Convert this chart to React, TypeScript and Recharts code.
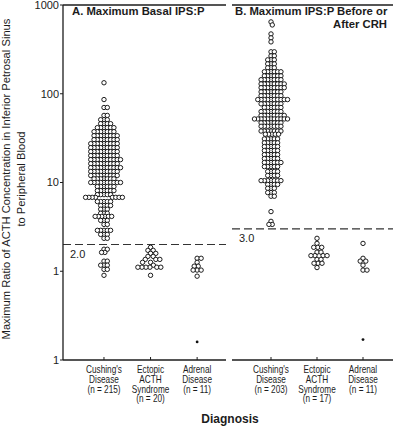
import React from 'react';
import { ScatterChart, Scatter, XAxis, YAxis, ReferenceLine } from 'recharts';

// ---------- DATA ----------
// Each entry: [ratio value, number of patients at that value]
const cushingBasal: [number, number][] = [
  [133, 1], [86, 1], [70, 2], [57, 2], [51, 3], [46, 4], [41.5, 6], [37.4, 7],
  [33.7, 8], [30.4, 8], [27.4, 9], [24.7, 9], [22.3, 9], [20.1, 9], [18.1, 10],
  [16.3, 9], [14.7, 10], [13.3, 9], [12.0, 9], [11.0, 7], [10, 10], [9.0, 6],
  [8.1, 6], [7.3, 5], [6.8, 8], [6.1, 5], [5.5, 4], [5.0, 3], [4.5, 3], [4.15, 6],
  [3.74, 3], [3.37, 2], [2.89, 5], [2.6, 3], [2.35, 2], [1.77, 2], [1.63, 2],
  [1.3, 2], [1.17, 3], [1.05, 2], [0.9, 1],
];
const ectopicBasal: [number, number][] = [
  [1.86, 1], [1.72, 2], [1.59, 2], [1.47, 2], [1.36, 3], [1.26, 2], [1.17, 1], [1.11, 6], [0.9, 1],
];
const adrenalBasal: [number, number][] = [
  [1.4, 2], [1.26, 1], [1.14, 2], [1.03, 3], [0.88, 1],
];
const adrenalBasalLow: number[] = [0.16];

const cushingCRH: [number, number][] = [
  [645, 1], [596, 1], [472, 1], [426, 1], [384, 1], [297, 2], [267, 2], [241, 3],
  [217, 3], [196, 3], [177, 6], [159, 6], [144, 7], [129, 8], [117, 8], [105, 7],
  [95, 7], [86, 10], [77, 7], [70, 6], [63, 7], [57, 8], [52, 11], [47, 7], [43, 7],
  [38, 7], [35, 5], [31, 5], [28, 5], [25.4, 5], [22.9, 5], [20.6, 5], [18.6, 5],
  [16.8, 6], [15.1, 5], [13.3, 4], [12, 4], [10.5, 7], [9.5, 4], [8.6, 3], [7.7, 3],
  [7.0, 2], [4.7, 1], [3.65, 1], [3.37, 2],
];
const ectopicCRH: [number, number][] = [
  [2.35, 1], [2.06, 1], [1.86, 3], [1.64, 2], [1.5, 4], [1.36, 2], [1.23, 3], [1.1, 1],
];
const adrenalCRH: [number, number][] = [
  [2.06, 1], [1.4, 1], [1.3, 2], [1.17, 1], [1.03, 2],
];
const adrenalCRHLow: number[] = [0.17];

const labelsA: string[][] = [
  ["Cushing's", 'Disease', '(n = 215)'],
  ['Ectopic', 'ACTH', 'Syndrome', '(n = 20)'],
  ['Adrenal', 'Disease', '(n = 11)'],
];
const labelsB: string[][] = [
  ["Cushing's", 'Disease', '(n = 203)'],
  ['Ectopic', 'ACTH', 'Syndrome', '(n = 17)'],
  ['Adrenal', 'Disease', '(n = 11)'],
];
const categoryPositions = [1, 2, 3];
const yTicks = [0.1, 1, 10, 100, 1000];
const cutoffA = 2.0;
const cutoffB = 3.0;

// ---------- STYLE / LAYOUT ----------
const FONT = "'Liberation Sans', Arial, Helvetica, sans-serif";
const INK = '#1c1c1c';
const TOP = 5;
const PLOT_H = 355;
const PX_PER_DECADE = PLOT_H / 4;
const DOMAIN_A: [number, number] = [0.12, 3.62];
const DOMAIN_B: [number, number] = [0.152, 3.652];
const PX_PER_UNIT_A = 163 / 3.5;
const PX_PER_UNIT_B = 161 / 3.5;
const DENSE_SPACING = 3.3;
const SPARSE_SPACING = 4.0;

const minorTicks: number[] = [];
for (const d of [0.1, 1, 10, 100]) for (let k = 2; k <= 9; k++) minorTicks.push(+(k * d).toPrecision(2));

// deterministic beeswarm layout (pixel space) -> x offset in axis units
function swarm(bins: [number, number][], cat: number, pxPerUnit: number, dist: number) {
  const vals: number[] = [];
  bins.forEach(([v, c]) => { for (let i = 0; i < c; i++) vals.push(v); });
  vals.sort((a, b) => b - a);
  const placed: { px: number; py: number }[] = [];
  const out: { x: number; y: number }[] = [];
  for (const v of vals) {
    const py = -Math.log10(v) * PX_PER_DECADE;
    const cands = [0];
    for (const p of placed) {
      const dy = py - p.py;
      if (Math.abs(dy) < dist) {
        const h = Math.sqrt(dist * dist - dy * dy);
        cands.push(p.px + h + 0.01, p.px - h - 0.01);
      }
    }
    let best: number | null = null;
    for (const c of cands) {
      const ok = placed.every(p => (p.px - c) ** 2 + (p.py - py) ** 2 >= dist * dist - 0.05);
      if (ok && (best === null || Math.abs(c) < Math.abs(best) - 1e-6)) best = c;
    }
    const b = best ?? 0;
    placed.push({ px: b, py });
    out.push({ x: cat + b / pxPerUnit, y: v });
  }
  return out;
}

const pointsA = [
  ...swarm(cushingBasal, categoryPositions[0], PX_PER_UNIT_A, DENSE_SPACING),
  ...swarm(ectopicBasal, categoryPositions[1], PX_PER_UNIT_A, SPARSE_SPACING),
  ...swarm(adrenalBasal, categoryPositions[2], PX_PER_UNIT_A, SPARSE_SPACING),
];
const lowA = adrenalBasalLow.map(v => ({ x: categoryPositions[2], y: v }));
const pointsB = [
  ...swarm(cushingCRH, categoryPositions[0], PX_PER_UNIT_B, DENSE_SPACING),
  ...swarm(ectopicCRH, categoryPositions[1], PX_PER_UNIT_B, SPARSE_SPACING),
  ...swarm(adrenalCRH, categoryPositions[2], PX_PER_UNIT_B, SPARSE_SPACING),
];
const lowB = adrenalCRHLow.map(v => ({ x: categoryPositions[2], y: v }));

const openDot = (p: any) => (
  <circle cx={p.cx} cy={p.cy} r={2.2} fill="#fff" stroke="#111" strokeWidth={0.95} />
);
const filledDot = (p: any) => <circle cx={p.cx} cy={p.cy} r={1.4} fill="#111" />;

const makeTick = (labels: string[][]) => (props: any) => {
  const { x, y, payload } = props;
  const idx = Math.round(payload.value) - 1;
  const lines = labels[idx] || [];
  return (
    <g>
      <line x1={x} x2={x} y1={y} y2={y - 3} stroke={INK} strokeWidth={1} />
      <g transform={`translate(${x},${y + 13}) scale(0.8,1)`}>
        <text x={0} y={0} textAnchor="middle" fontSize={10.3} fontFamily={FONT} fill={INK}>
          {lines.map((l, i) => (
            <tspan key={i} x={0} dy={i === 0 ? 0 : 9.8}>{l}</tspan>
          ))}
        </text>
      </g>
    </g>
  );
};

const CutLabel = (props: any) => {
  const vb = props.viewBox || {};
  return (
    <text x={(vb.x ?? 0) + 7} y={(vb.y ?? 0) + 13.5} fontSize={11} fontFamily={FONT} fill={INK}>
      {props.text}
    </text>
  );
};

const fmtY = (v: number) => (v === 0.1 ? '1' : String(v));

const axisStroke = { stroke: INK, strokeWidth: 1.3 };

export default function App() {
  return (
    <div style={{ position: 'absolute', left: 0, top: 0, width: 394, height: 426, background: '#fff' }}>
      <div style={{ position: 'absolute', left: 0, top: 0 }}>
        <ScatterChart width={230} height={426} margin={{ top: TOP, right: 4, bottom: 0, left: 0 }}>
          <XAxis xAxisId="x" type="number" dataKey="x" domain={DOMAIN_A} ticks={categoryPositions} interval={0}
            allowDataOverflow height={66} tick={makeTick(labelsA)} tickLine={false} tickSize={0} tickMargin={0}
            axisLine={axisStroke} />
          <YAxis yAxisId="y" type="number" dataKey="y" scale="log" domain={[0.1, 1000]} ticks={yTicks} interval={0}
            allowDataOverflow width={63} tickSize={3} tickMargin={1} tickFormatter={fmtY}
            tick={{ fontSize: 11, fill: INK, fontFamily: FONT }} tickLine={{ stroke: INK }} axisLine={axisStroke} />
          <YAxis yAxisId="yl" type="number" scale="log" domain={[0.1, 1000]} ticks={minorTicks} interval={0}
            allowDataOverflow orientation="left" mirror width={0} tick={false} tickSize={3}
            tickLine={{ stroke: INK }} axisLine={false} />
          <YAxis yAxisId="yr" type="number" scale="log" domain={[0.1, 1000]} ticks={[...minorTicks, ...yTicks]} interval={0}
            allowDataOverflow orientation="right" mirror width={0} tick={false} tickSize={3}
            tickLine={{ stroke: INK }} axisLine={axisStroke} />
          <ReferenceLine xAxisId="x" yAxisId="y" y={1000} stroke={INK} strokeWidth={1.3} />
          <ReferenceLine xAxisId="x" yAxisId="y" y={cutoffA} stroke="#333" strokeWidth={1.1} strokeDasharray="8 4"
            label={<CutLabel text="2.0" />} />
          <Scatter xAxisId="x" yAxisId="y" data={pointsA} shape={openDot} isAnimationActive={false} />
          <Scatter xAxisId="x" yAxisId="y" data={lowA} shape={filledDot} isAnimationActive={false} />
        </ScatterChart>
      </div>
      <div style={{ position: 'absolute', left: 0, top: 0 }}>
        <ScatterChart width={394} height={426} margin={{ top: TOP, right: 1, bottom: 0, left: 232 }}>
          <XAxis xAxisId="x" type="number" dataKey="x" domain={DOMAIN_B} ticks={categoryPositions} interval={0}
            allowDataOverflow height={66} tick={makeTick(labelsB)} tickLine={false} tickSize={0} tickMargin={0}
            axisLine={axisStroke} />
          <YAxis yAxisId="y" type="number" dataKey="y" scale="log" domain={[0.1, 1000]} ticks={[...minorTicks, ...yTicks]}
            interval={0} allowDataOverflow orientation="left" mirror width={0} tick={false} tickSize={3}
            tickLine={{ stroke: INK }} axisLine={axisStroke} />
          <YAxis yAxisId="yr" type="number" scale="log" domain={[0.1, 1000]} ticks={[...minorTicks, ...yTicks]} interval={0}
            allowDataOverflow orientation="right" mirror width={0} tick={false} tickSize={3}
            tickLine={{ stroke: INK }} axisLine={axisStroke} />
          <ReferenceLine xAxisId="x" yAxisId="y" y={1000} stroke={INK} strokeWidth={1.3} />
          <ReferenceLine xAxisId="x" yAxisId="y" y={cutoffB} stroke="#333" strokeWidth={1.1} strokeDasharray="8 4"
            label={<CutLabel text="3.0" />} />
          <Scatter xAxisId="x" yAxisId="y" data={pointsB} shape={openDot} isAnimationActive={false} />
          <Scatter xAxisId="x" yAxisId="y" data={lowB} shape={filledDot} isAnimationActive={false} />
        </ScatterChart>
      </div>
      <svg width={394} height={426} style={{ position: 'absolute', left: 0, top: 0, pointerEvents: 'none' }}>
        <text x={72} y={15} fontSize={11.3} fontWeight="bold" fontFamily={FONT} fill={INK}>A. Maximum Basal IPS:P</text>
        <text x={235} y={15} fontSize={11.3} fontWeight="bold" fontFamily={FONT} fill={INK}>B. Maximum IPS:P Before or</text>
        <text x={387} y={27.5} fontSize={11.3} fontWeight="bold" fontFamily={FONT} fill={INK} textAnchor="end">After CRH</text>
        <text transform="translate(10,179) rotate(-90)" textAnchor="middle" fontSize={11.2} fontFamily={FONT} fill={INK}>
          Maximum Ratio of ACTH Concentration in Inferior Petrosal Sinus
        </text>
        <text transform="translate(25,179) rotate(-90)" textAnchor="middle" fontSize={11.2} fontFamily={FONT} fill={INK}>
          to Peripheral Blood
        </text>
        <text x={230} y={423} textAnchor="middle" fontSize={12} fontWeight="bold" fontFamily={FONT} fill={INK}>Diagnosis</text>
      </svg>
    </div>
  );
}
